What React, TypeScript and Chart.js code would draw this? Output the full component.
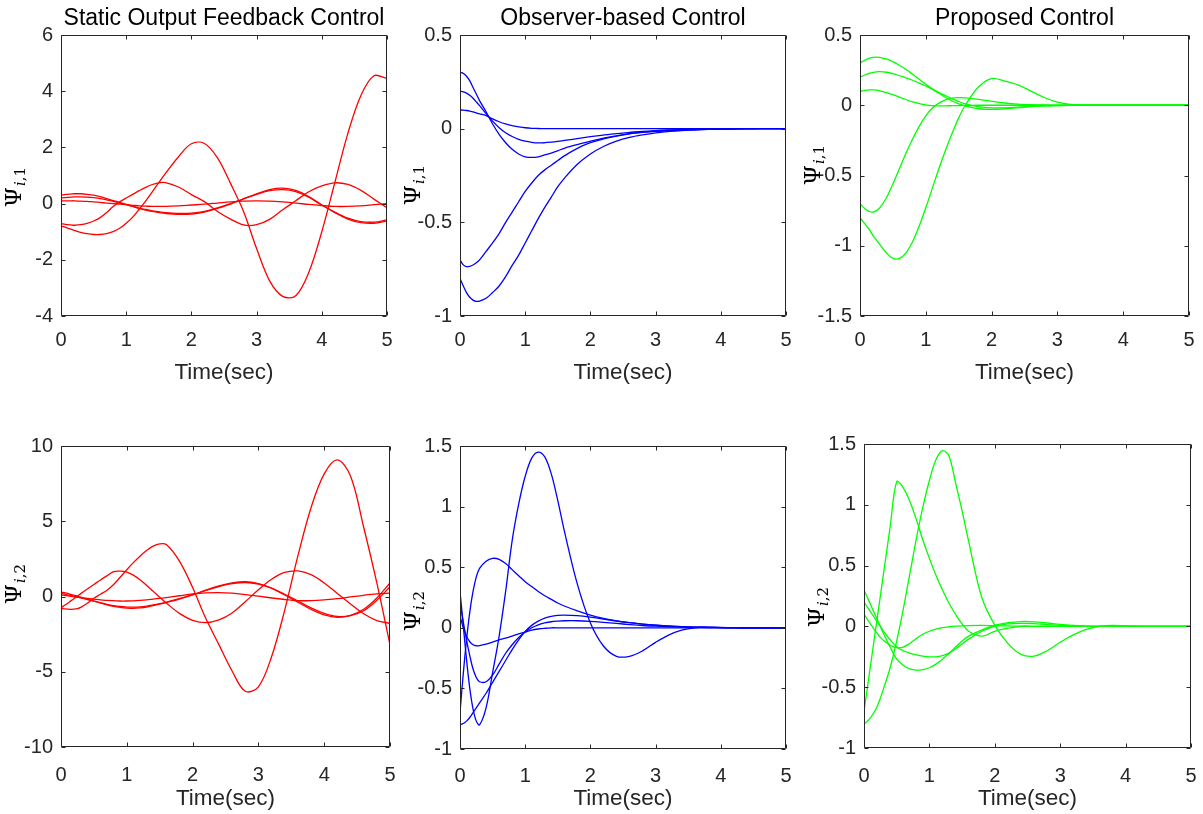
import React, { useEffect, useRef } from "react";
import { Chart, registerables } from "chart.js";

Chart.register(...registerables);

// ---------------- data ----------------
const TIME = [0, 0.05, 0.1, 0.15, 0.2, 0.25, 0.3, 0.4, 0.5, 0.6, 0.7, 0.8, 0.9, 1.0, 1.1, 1.2, 1.3, 1.4, 1.5, 1.6, 1.8, 2.0, 2.2, 2.4, 2.6, 2.8, 3.0, 3.2, 3.4, 3.6, 3.8, 4.0, 4.2, 4.4, 4.6, 4.8, 5.0];
const X_TICKS = [0, 1, 2, 3, 4, 5];
const Y_TICKS_TL = [-4, -2, 0, 2, 4, 6];
const Y_TICKS_TM = [-1, -0.5, 0, 0.5];
const Y_TICKS_TR = [-1.5, -1, -0.5, 0, 0.5];
const Y_TICKS_BL = [-10, -5, 0, 5, 10];
const Y_TICKS_BM = [-1, -0.5, 0, 0.5, 1, 1.5];
const Y_TICKS_BR = [-1, -0.5, 0, 0.5, 1, 1.5];
const TITLES = ["Static Output Feedback Control", "Observer-based Control", "Proposed Control"];
const X_LABEL = "Time(sec)";

// Static output feedback, Psi_{i,1}
const sofA1 = [-0.80, -0.83, -0.87, -0.91, -0.95, -0.99, -1.02, -1.07, -1.10, -1.10, -1.07, -1.00, -0.88, -0.70, -0.48, -0.20, 0.10, 0.42, 0.75, 1.07, 1.66, 2.13, 2.14, 1.63, 0.72, -0.28, -1.60, -2.75, -3.30, -3.28, -2.45, -1.00, 0.75, 2.50, 3.85, 4.55, 4.45];
const sofB1 = [-0.71, -0.73, -0.75, -0.76, -0.77, -0.76, -0.75, -0.70, -0.62, -0.50, -0.32, -0.10, 0.06, 0.20, 0.33, 0.46, 0.58, 0.68, 0.74, 0.75, 0.59, 0.32, 0.07, -0.28, -0.55, -0.76, -0.75, -0.56, -0.22, 0.10, 0.42, 0.63, 0.74, 0.68, 0.47, 0.16, -0.15];
const sofC1 = [0.30, 0.32, 0.33, 0.34, 0.35, 0.35, 0.35, 0.33, 0.30, 0.25, 0.18, 0.11, 0.04, -0.03, -0.10, -0.17, -0.23, -0.28, -0.32, -0.35, -0.38, -0.37, -0.30, -0.17, -0.02, 0.17, 0.35, 0.50, 0.55, 0.47, 0.25, -0.05, -0.32, -0.55, -0.68, -0.70, -0.62];
const sofD1 = [0.20, 0.21, 0.22, 0.23, 0.24, 0.24, 0.24, 0.23, 0.21, 0.18, 0.13, 0.08, 0.02, -0.04, -0.10, -0.16, -0.21, -0.26, -0.29, -0.32, -0.35, -0.34, -0.28, -0.15, 0.00, 0.17, 0.33, 0.46, 0.50, 0.43, 0.23, -0.05, -0.30, -0.52, -0.64, -0.66, -0.58];
const sofE1 = [0.10, 0.10, 0.10, 0.10, 0.10, 0.09, 0.09, 0.08, 0.06, 0.04, 0.02, 0.00, -0.02, -0.04, -0.06, -0.08, -0.09, -0.10, -0.10, -0.10, -0.08, -0.05, -0.02, 0.02, 0.06, 0.09, 0.10, 0.09, 0.06, 0.02, -0.03, -0.07, -0.10, -0.10, -0.08, -0.04, 0.00];

// Observer-based, Psi_{i,1}
const obsA1 = [-0.80, -0.84, -0.875, -0.90, -0.915, -0.922, -0.92, -0.905, -0.875, -0.84, -0.79, -0.73, -0.675, -0.61, -0.545, -0.48, -0.42, -0.365, -0.31, -0.265, -0.19, -0.135, -0.095, -0.067, -0.047, -0.033, -0.022, -0.015, -0.01, -0.007, -0.004, -0.003, -0.002, -0.001, 0, 0, 0];
const obsB1 = [-0.70, -0.727, -0.737, -0.735, -0.728, -0.716, -0.70, -0.655, -0.61, -0.56, -0.50, -0.445, -0.39, -0.335, -0.29, -0.25, -0.22, -0.195, -0.17, -0.145, -0.105, -0.075, -0.055, -0.04, -0.028, -0.02, -0.014, -0.01, -0.007, -0.005, -0.003, -0.002, -0.001, 0, 0, 0, 0];
const obsC1 = [0.30, 0.295, 0.28, 0.255, 0.22, 0.185, 0.15, 0.09, 0.025, -0.03, -0.075, -0.11, -0.135, -0.15, -0.153, -0.15, -0.14, -0.13, -0.118, -0.105, -0.085, -0.067, -0.05, -0.038, -0.027, -0.019, -0.013, -0.009, -0.006, -0.004, -0.002, -0.001, 0, 0, 0, 0, 0];
const obsD1 = [0.20, 0.197, 0.19, 0.178, 0.162, 0.143, 0.123, 0.08, 0.04, 0.005, -0.022, -0.042, -0.057, -0.067, -0.073, -0.076, -0.075, -0.072, -0.068, -0.063, -0.053, -0.043, -0.034, -0.026, -0.02, -0.014, -0.01, -0.007, -0.005, -0.003, -0.002, -0.001, 0, 0, 0, 0, 0];
const obsE1 = [0.10, 0.099, 0.097, 0.094, 0.089, 0.084, 0.079, 0.07, 0.052, 0.037, 0.025, 0.016, 0.01, 0.005, 0.002, 0.001, 0, 0, 0, 0, 0, 0, 0, 0, 0, 0, 0, 0, 0, 0, 0, 0, 0, 0, 0, 0, 0];

// Proposed, Psi_{i,1}
const proA1 = [-0.80, -0.83, -0.86, -0.89, -0.93, -0.96, -0.99, -1.05, -1.09, -1.09, -1.05, -0.97, -0.86, -0.73, -0.59, -0.45, -0.32, -0.20, -0.09, 0.0, 0.13, 0.19, 0.172, 0.145, 0.10, 0.055, 0.022, 0.006, 0, 0, 0, 0, 0, 0, 0, 0, 0];
const proB1 = [-0.70, -0.725, -0.745, -0.758, -0.76, -0.75, -0.73, -0.66, -0.56, -0.45, -0.34, -0.24, -0.15, -0.075, -0.02, 0.015, 0.038, 0.05, 0.054, 0.052, 0.042, 0.028, 0.016, 0.008, 0.004, 0.002, 0.001, 0, 0, 0, 0, 0, 0, 0, 0, 0, 0];
const proC1 = [0.30, 0.315, 0.327, 0.335, 0.34, 0.342, 0.34, 0.33, 0.31, 0.285, 0.255, 0.22, 0.185, 0.15, 0.115, 0.085, 0.055, 0.03, 0.01, -0.005, -0.025, -0.03, -0.025, -0.018, -0.01, -0.005, -0.002, 0, 0, 0, 0, 0, 0, 0, 0, 0, 0];
const proD1 = [0.20, 0.21, 0.22, 0.228, 0.234, 0.238, 0.239, 0.235, 0.225, 0.21, 0.195, 0.178, 0.158, 0.137, 0.115, 0.09, 0.068, 0.046, 0.026, 0.01, -0.01, -0.018, -0.018, -0.013, -0.008, -0.004, -0.002, 0, 0, 0, 0, 0, 0, 0, 0, 0, 0];
const proE1 = [0.10, 0.104, 0.107, 0.109, 0.109, 0.107, 0.103, 0.09, 0.075, 0.058, 0.04, 0.024, 0.012, 0.003, -0.002, -0.004, -0.004, -0.003, -0.002, -0.001, 0, 0, 0, 0, 0, 0, 0, 0, 0, 0, 0, 0, 0, 0, 0, 0, 0];

// Static output feedback, Psi_{i,2}
const sofA2 = [-0.80, -0.82, -0.84, -0.85, -0.84, -0.80, -0.72, -0.45, -0.12, 0.15, 0.42, 0.80, 1.28, 1.78, 2.25, 2.68, 3.05, 3.35, 3.50, 3.45, 2.35, 0.60, -1.45, -3.20, -4.95, -6.30, -6.00, -4.00, -0.90, 2.70, 5.90, 8.15, 9.08, 8.00, 4.60, 0.90, -3.20];
const sofB2 = [-0.75, -0.60, -0.45, -0.29, -0.13, 0.03, 0.19, 0.50, 0.80, 1.10, 1.38, 1.65, 1.68, 1.62, 1.42, 1.12, 0.75, 0.35, -0.05, -0.43, -1.12, -1.58, -1.74, -1.56, -1.10, -0.35, 0.45, 1.15, 1.60, 1.70, 1.45, 0.90, 0.20, -0.50, -1.15, -1.60, -1.78];
const sofC2 = [0.30, 0.25, 0.20, 0.14, 0.08, 0.02, -0.04, -0.17, -0.30, -0.43, -0.55, -0.65, -0.72, -0.77, -0.79, -0.76, -0.70, -0.60, -0.50, -0.40, -0.17, 0.10, 0.42, 0.70, 0.90, 0.98, 0.85, 0.55, 0.10, -0.38, -0.85, -1.22, -1.38, -1.25, -0.85, -0.10, 0.90];
const sofD2 = [0.20, 0.16, 0.11, 0.06, 0.01, -0.04, -0.09, -0.20, -0.31, -0.42, -0.52, -0.60, -0.66, -0.70, -0.71, -0.69, -0.64, -0.56, -0.47, -0.37, -0.14, 0.12, 0.40, 0.66, 0.85, 0.93, 0.83, 0.56, 0.15, -0.30, -0.76, -1.12, -1.32, -1.27, -0.95, -0.25, 0.65];
const sofE2 = [0.10, 0.07, 0.04, 0.01, -0.02, -0.05, -0.08, -0.13, -0.18, -0.22, -0.26, -0.28, -0.30, -0.30, -0.29, -0.26, -0.22, -0.17, -0.12, -0.07, 0.05, 0.17, 0.24, 0.26, 0.22, 0.13, 0.02, -0.10, -0.20, -0.27, -0.28, -0.23, -0.14, -0.03, 0.08, 0.17, 0.22];

// Observer-based, Psi_{i,2}
const obsA2 = [0.30, 0.02, -0.26, -0.50, -0.67, -0.77, -0.80, -0.66, -0.37, -0.07, 0.30, 0.72, 1.02, 1.25, 1.40, 1.45, 1.41, 1.27, 1.05, 0.80, 0.36, 0.04, -0.15, -0.235, -0.235, -0.19, -0.12, -0.06, -0.02, 0.0, 0.005, 0.003, 0.001, 0, 0, 0, 0];
const obsB2 = [-0.70, -0.38, -0.10, 0.13, 0.30, 0.42, 0.49, 0.55, 0.573, 0.565, 0.53, 0.48, 0.43, 0.38, 0.34, 0.30, 0.265, 0.235, 0.205, 0.18, 0.14, 0.105, 0.078, 0.058, 0.043, 0.03, 0.021, 0.015, 0.01, 0.006, 0.004, 0.002, 0.001, 0, 0, 0, 0];
const obsC2 = [0.20, 0.05, -0.10, -0.23, -0.34, -0.41, -0.445, -0.445, -0.39, -0.30, -0.21, -0.14, -0.08, -0.035, 0.0, 0.025, 0.04, 0.05, 0.055, 0.058, 0.058, 0.053, 0.045, 0.036, 0.027, 0.019, 0.013, 0.009, 0.006, 0.004, 0.002, 0.001, 0, 0, 0, 0, 0];
const obsD2 = [0.10, 0.0, -0.07, -0.115, -0.14, -0.148, -0.147, -0.135, -0.118, -0.10, -0.085, -0.068, -0.05, -0.035, -0.02, -0.01, -0.004, 0, 0, 0, 0, 0, 0, 0, 0, 0, 0, 0, 0, 0, 0, 0, 0, 0, 0, 0, 0];
const obsE2 = [-0.80, -0.79, -0.77, -0.74, -0.70, -0.66, -0.62, -0.54, -0.45, -0.36, -0.27, -0.18, -0.10, -0.03, 0.02, 0.055, 0.08, 0.095, 0.102, 0.105, 0.10, 0.088, 0.072, 0.056, 0.042, 0.03, 0.021, 0.014, 0.009, 0.006, 0.004, 0.002, 0.001, 0, 0, 0, 0];

// Proposed, Psi_{i,2}
const proA2 = [-0.70, -0.51, -0.32, -0.13, 0.06, 0.25, 0.44, 0.82, 1.19, 1.14, 1.03, 0.88, 0.71, 0.56, 0.42, 0.30, 0.19, 0.10, 0.02, -0.04, -0.08, -0.04, -0.015, 0.0, 0, 0, 0, 0, 0, 0, 0, 0, 0, 0, 0, 0, 0];
const proB2 = [-0.80, -0.78, -0.75, -0.71, -0.66, -0.59, -0.51, -0.34, -0.12, 0.14, 0.43, 0.72, 0.98, 1.20, 1.37, 1.445, 1.40, 1.18, 0.95, 0.70, 0.24, 0.01, -0.14, -0.23, -0.245, -0.20, -0.13, -0.07, -0.025, 0.0, 0.008, 0.005, 0.002, 0, 0, 0, 0];
const proC2 = [0.30, 0.24, 0.18, 0.12, 0.06, 0.0, -0.06, -0.17, -0.27, -0.32, -0.35, -0.36, -0.355, -0.34, -0.31, -0.27, -0.22, -0.17, -0.12, -0.08, -0.03, 0.01, 0.03, 0.04, 0.038, 0.028, 0.016, 0.008, 0.003, 0, 0, 0, 0, 0, 0, 0, 0];
const proD2 = [0.20, 0.16, 0.12, 0.08, 0.04, 0.0, -0.04, -0.11, -0.17, -0.20, -0.22, -0.235, -0.245, -0.25, -0.25, -0.24, -0.22, -0.185, -0.145, -0.105, -0.04, 0.0, 0.02, 0.025, 0.022, 0.015, 0.009, 0.004, 0.001, 0, 0, 0, 0, 0, 0, 0, 0];
const proE2 = [0.10, 0.06, 0.02, -0.02, -0.055, -0.09, -0.115, -0.155, -0.175, -0.17, -0.14, -0.10, -0.065, -0.04, -0.022, -0.01, -0.003, 0.002, 0.005, 0.007, 0.008, 0.006, 0.004, 0.002, 0.001, 0, 0, 0, 0, 0, 0, 0, 0, 0, 0, 0, 0];

// ---------------- styling / layout ----------------
const AXIS = "#262626";
const SANS = '"Liberation Sans", Arial, Helvetica, sans-serif';
const SERIF = '"DejaVu Serif", "Liberation Serif", serif';

type PanelSpec = {
  id: string;
  left: number; top: number; right: number; bottom: number; // plot box, page px
  cTop: number; cBottom: number; // canvas vertical extent, page px
  yMin: number; yMax: number; yTicks: number[];
  color: string; series: number[][];
  title?: string; titleY?: number;
  sub: string; ylCY: number;
  xTickPad: number; xLabelY: number;
};

const PANELS: PanelSpec[] = [
  { id: "tl", left: 61, top: 35, right: 387, bottom: 316, cTop: 0, cBottom: 400, yMin: -4, yMax: 6, yTicks: Y_TICKS_TL, color: "#ff0000", series: [sofA1, sofB1, sofC1, sofD1, sofE1], title: TITLES[0], titleY: 25, sub: "1", ylCY: 187, xTickPad: 12, xLabelY: 373 },
  { id: "tm", left: 460, top: 35, right: 786, bottom: 316, cTop: 0, cBottom: 400, yMin: -1, yMax: 0.5, yTicks: Y_TICKS_TM, color: "#0000ff", series: [obsA1, obsB1, obsC1, obsD1, obsE1], title: TITLES[1], titleY: 25, sub: "1", ylCY: 185, xTickPad: 12, xLabelY: 373 },
  { id: "tr", left: 860, top: 35, right: 1189, bottom: 316, cTop: 0, cBottom: 400, yMin: -1.5, yMax: 0.5, yTicks: Y_TICKS_TR, color: "#00ff00", series: [proA1, proB1, proC1, proD1, proE1], title: TITLES[2], titleY: 25, sub: "1", ylCY: 165, xTickPad: 12, xLabelY: 373 },
  { id: "bl", left: 61, top: 446, right: 390, bottom: 747, cTop: 400, cBottom: 814, yMin: -10, yMax: 10, yTicks: Y_TICKS_BL, color: "#ff0000", series: [sofA2, sofB2, sofC2, sofD2, sofE2], sub: "2", ylCY: 584, xTickPad: 16, xLabelY: 799 },
  { id: "bm", left: 460, top: 446, right: 786, bottom: 749, cTop: 400, cBottom: 814, yMin: -1, yMax: 1.5, yTicks: Y_TICKS_BM, color: "#0000ff", series: [obsA2, obsB2, obsC2, obsD2, obsE2], sub: "2", ylCY: 611, xTickPad: 15, xLabelY: 799 },
  { id: "br", left: 864, top: 444, right: 1191, bottom: 748, cTop: 400, cBottom: 814, yMin: -1, yMax: 1.5, yTicks: Y_TICKS_BR, color: "#00ff00", series: [proA2, proB2, proC2, proD2, proE2], sub: "2", ylCY: 607, xTickPad: 16, xLabelY: 799 },
];

const Y_AXIS_W = 61;
const PAD_R = 10;

const decorPlugin = {
  id: "decor",
  afterDatasetsDraw(chart: any, _args: any, o: any) {
    const { ctx, chartArea: a } = chart;
    const xs = chart.scales.x;
    const ys = chart.scales.y;
    ctx.save();
    // box and inward ticks
    ctx.strokeStyle = AXIS;
    ctx.lineWidth = 1;
    const L = Math.round(a.left) + 0.5;
    const R = Math.round(a.right) - 0.5;
    const T = Math.round(a.top) + 0.5;
    const B = Math.round(a.bottom) - 0.5;
    const tl = 4;
    ctx.beginPath();
    ctx.rect(L, T, R - L, B - T);
    for (const t of xs.ticks) {
      const x = Math.round(xs.getPixelForValue(t.value)) + 0.5;
      ctx.moveTo(x, B); ctx.lineTo(x, B - tl);
      ctx.moveTo(x, T); ctx.lineTo(x, T + tl);
    }
    for (const t of ys.ticks) {
      const y = Math.round(ys.getPixelForValue(t.value)) + 0.5;
      ctx.moveTo(L, y); ctx.lineTo(L + tl, y);
      ctx.moveTo(R, y); ctx.lineTo(R - tl, y);
    }
    ctx.stroke();

    const cx = (a.left + a.right) / 2;
    // title
    if (o.title) {
      ctx.fillStyle = "#000";
      ctx.font = `23px ${SANS}`;
      ctx.textAlign = "center";
      ctx.textBaseline = "alphabetic";
      ctx.fillText(o.title, cx, o.titleY);
    }
    // x label
    ctx.fillStyle = AXIS;
    ctx.font = `22.5px ${SANS}`;
    ctx.textAlign = "center";
    ctx.textBaseline = "middle";
    ctx.fillText(o.xLabel, cx, o.xLabelY);

    // y label: Psi with subscript (i, n)
    const big = `23px ${SERIF}`;
    const itf = `italic 15px ${SERIF}`;
    const rmf = `15px ${SERIF}`;
    ctx.font = big; const w1 = ctx.measureText("Ψ").width;
    ctx.font = itf; const w2 = ctx.measureText("i").width;
    ctx.font = rmf; const w3 = ctx.measureText("," + o.sub).width;
    const total = w1 + 1 + w2 + w3;
    ctx.translate(o.ylX, o.ylCY + total / 2);
    ctx.rotate(-Math.PI / 2);
    ctx.fillStyle = "#000";
    ctx.textAlign = "left";
    ctx.textBaseline = "alphabetic";
    ctx.font = big; ctx.fillText("Ψ", 0, 0);
    ctx.font = itf; ctx.fillText("i", w1 + 1, 4);
    ctx.font = rmf; ctx.fillText("," + o.sub, w1 + 1 + w2, 4);
    ctx.restore();
  },
};

function Panel({ p }: { p: PanelSpec }) {
  const ref = useRef<HTMLCanvasElement | null>(null);
  const cLeft = p.left - Y_AXIS_W;
  const width = p.right + PAD_R - cLeft;
  const height = p.cBottom - p.cTop;

  useEffect(() => {
    if (!ref.current) return;
    const chart = new Chart(ref.current, {
      type: "line",
      data: {
        datasets: p.series.map((s) => ({
          data: TIME.map((t, i) => ({ x: t, y: s[i] })),
          borderColor: p.color,
          backgroundColor: p.color,
          borderWidth: 1.3,
          pointRadius: 0,
          fill: false,
          tension: 0.35,
        })),
      },
      options: {
        responsive: false,
        animation: false,
        devicePixelRatio: 1,
        events: [],
        layout: { padding: { left: 0, right: PAD_R, top: p.top - p.cTop, bottom: 0 } },
        plugins: {
          legend: { display: false },
          tooltip: { enabled: false },
          title: { display: false },
          decor: {
            title: p.title,
            titleY: (p.titleY ?? 0) - p.cTop,
            xLabel: X_LABEL,
            xLabelY: p.xLabelY - p.cTop,
            sub: p.sub,
            ylX: p.left - 40 - cLeft,
            ylCY: p.ylCY - p.cTop,
          },
        } as any,
        scales: {
          x: {
            type: "linear",
            min: 0,
            max: 5,
            afterBuildTicks: (s: any) => { s.ticks = X_TICKS.map((v) => ({ value: v })); },
            afterFit: (s: any) => {
              s.height = p.cBottom - p.bottom;
              s.paddingLeft = 0;
              s.paddingRight = 0;
            },
            grid: { display: false, drawTicks: false, tickLength: 0 },
            border: { display: false },
            ticks: {
              color: AXIS,
              font: { family: SANS, size: 20 },
              padding: p.xTickPad,
              maxRotation: 0,
              minRotation: 0,
              autoSkip: false,
              callback: (v: any) => String(v),
            },
          },
          y: {
            type: "linear",
            min: p.yMin,
            max: p.yMax,
            afterBuildTicks: (s: any) => { s.ticks = p.yTicks.map((v) => ({ value: v })); },
            afterFit: (s: any) => {
              s.width = Y_AXIS_W;
              s.paddingTop = 0;
              s.paddingBottom = 0;
            },
            grid: { display: false, drawTicks: false, tickLength: 0 },
            border: { display: false },
            ticks: {
              color: AXIS,
              font: { family: SANS, size: 20 },
              padding: 8,
              autoSkip: false,
              callback: (v: any) => String(v),
            },
          },
        },
      },
      plugins: [decorPlugin as any],
    });
    return () => chart.destroy();
  }, []);

  return (
    <canvas
      ref={ref}
      width={width}
      height={height}
      style={{ position: "absolute", left: cLeft, top: p.cTop, width, height }}
    />
  );
}

export default function App() {
  return (
    <div style={{ position: "fixed", left: 0, top: 0, width: 1203, height: 814, background: "#fff", overflow: "hidden" }}>
      {PANELS.map((p) => (
        <Panel key={p.id} p={p} />
      ))}
    </div>
  );
}
